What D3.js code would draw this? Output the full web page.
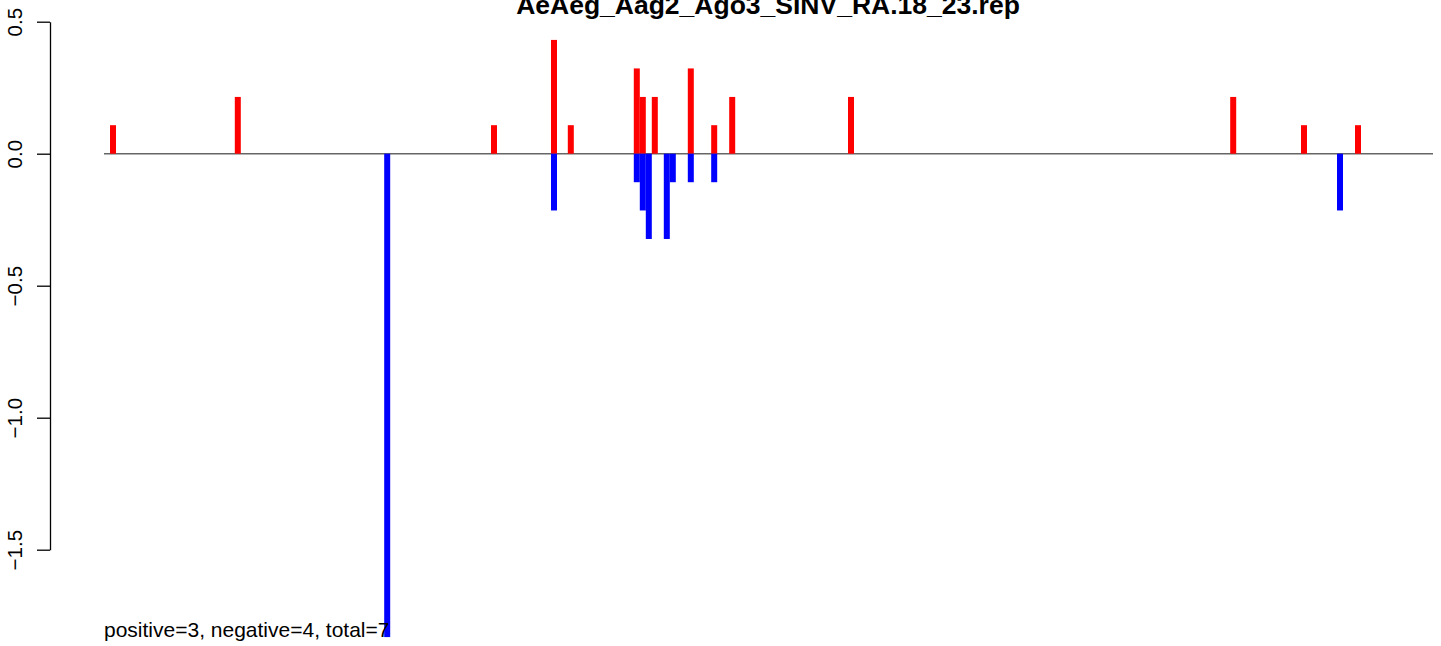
<!DOCTYPE html>
<html>
<head>
<meta charset="utf-8">
<script src="https://cdn.jsdelivr.net/npm/d3@7"></script>
<style>
  html, body { margin: 0; padding: 0; background: #fff; }
  svg { display: block; font-family: "Liberation Sans", Arial, Helvetica, sans-serif; }
</style>
</head>
<body>
<svg id="chart" width="1441" height="646"></svg>
<script>
// ---- data ----
const title = "AeAeg_Aag2_Ago3_SINV_RA.18_23.rep";
const footnote = "positive=3, negative=4, total=7";
const positionRange = [0, 221.5];
const positions = [1.5, 22.3, 47.2, 65, 75, 77.8, 88.8, 89.8, 90.8, 91.8, 93.8, 94.8, 97.8, 101.7, 104.7, 124.5, 188.2, 200, 206, 209];
const plusValues  = [0.108, 0.215, 0, 0.108, 0.431, 0.108, 0.323, 0.215, 0, 0.215, 0, 0, 0.323, 0.108, 0.215, 0.215, 0.215, 0.108, 0, 0.108];
const minusValues = [0, 0, -1.831, 0, -0.215, 0, -0.108, -0.215, -0.323, 0, -0.323, -0.108, -0.108, -0.108, 0, 0, 0, 0, -0.215, 0];
const yTicks = [0.5, 0, -0.5, -1, -1.5];
const yTickLabels = ["0.5", "0.0", "\u22120.5", "\u22121.0", "\u22121.5"];

// ---- drawing ----
const svg = d3.select("#chart");
const x = d3.scaleLinear().domain(positionRange).range([104, 1433]);
const y = d3.scaleLinear().domain([-1.5, 0.5]).range([549.7, 21.7]);
const barW = x(1) - x(0);

// zero line
svg.append("line")
  .attr("x1", x(positionRange[0])).attr("x2", x(positionRange[1]))
  .attr("y1", y(0)).attr("y2", y(0))
  .attr("stroke", "#666").attr("stroke-width", 1.4);

const rows = positions.map((p, i) => ({p, plus: plusValues[i], minus: minusValues[i]}));

svg.append("g").selectAll("rect").data(rows.filter(d => d.plus !== 0)).join("rect")
  .attr("x", d => x(d.p) - barW / 2)
  .attr("width", barW)
  .attr("y", d => y(d.plus))
  .attr("height", d => y(0) - y(d.plus))
  .attr("fill", "#ff0000");

svg.append("g").selectAll("rect").data(rows.filter(d => d.minus !== 0)).join("rect")
  .attr("x", d => x(d.p) - barW / 2)
  .attr("width", barW)
  .attr("y", y(0))
  .attr("height", d => y(d.minus) - y(0))
  .attr("fill", "#0000ff");

// y axis
const axis = d3.axisLeft(y).tickValues(yTicks).tickFormat((d, i) => yTickLabels[i]).tickSize(13).tickSizeOuter(0);
const ag = svg.append("g").attr("transform", "translate(50,0)").call(axis);
ag.select(".domain").attr("stroke", "#000").attr("stroke-width", 1.3);
ag.selectAll(".tick line").attr("stroke", "#000").attr("stroke-width", 1.3);
ag.selectAll(".tick text")
  .attr("transform", "rotate(-90)")
  .attr("x", 0).attr("y", -28).attr("dy", 0)
  .attr("text-anchor", "middle")
  .attr("fill", "#000")
  .style("font-size", "20.5px")
  .style("font-family", "'Liberation Sans', Arial, sans-serif");

// title
svg.append("text")
  .attr("x", 768).attr("y", 13.5)
  .attr("text-anchor", "middle")
  .style("font-weight", "bold")
  .style("font-size", "26.5px")
  .text(title);

// footnote
svg.append("text")
  .attr("x", 104).attr("y", 636.5)
  .style("font-size", "21px")
  .text(footnote);
</script>
</body>
</html>
